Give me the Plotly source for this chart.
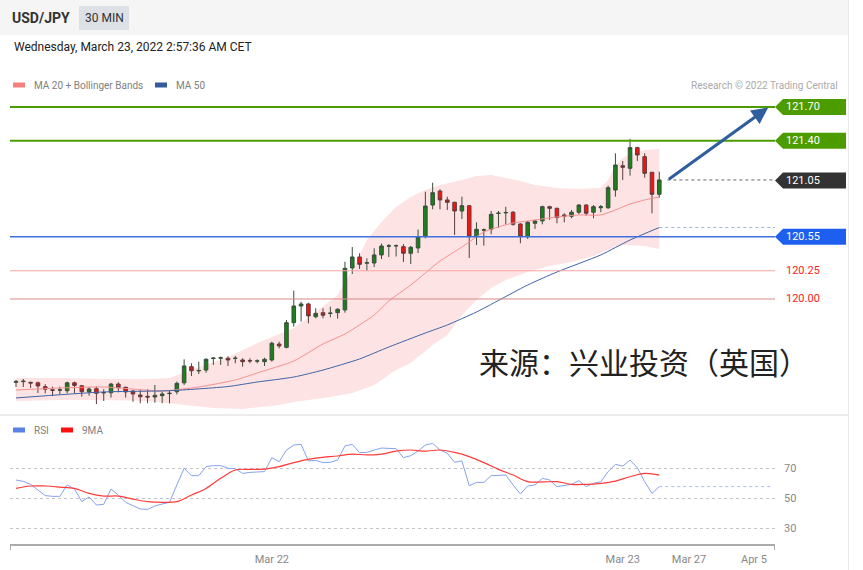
import plotly.graph_objects as go

W, H = 863, 570

# ---------------- data (USD/JPY, 30 min candles) ----------------
opens = [119.262, 119.268, 119.262, 119.258, 119.224, 119.196, 119.192, 119.188, 119.258, 119.232,
         119.177, 119.206, 119.168, 119.170, 119.247, 119.218, 119.185, 119.150, 119.138, 119.132,
         119.144, 119.162, 119.179, 119.258, 119.401, 119.363, 119.371, 119.473, 119.476, 119.475,
         119.473, 119.460, 119.455, 119.450, 119.445, 119.460, 119.601, 119.572, 119.790, 119.938,
         119.956, 119.843, 119.879, 119.872, 119.879, 119.903, 120.275, 120.372, 120.317, 120.319,
         120.390, 120.468, 120.470, 120.463, 120.405, 120.452, 120.552, 120.832, 120.956, 120.877,
         120.856, 120.779, 120.826, 120.552, 120.609, 120.617, 120.757, 120.762, 120.768, 120.664,
         120.552, 120.670, 120.691, 120.817, 120.803, 120.744, 120.732, 120.768, 120.832, 120.768,
         120.808, 120.808, 120.965, 121.180, 121.157, 121.340, 121.260, 121.122, 120.927]
highs = [119.283, 119.292, 119.268, 119.268, 119.246, 119.224, 119.224, 119.268, 119.268, 119.239,
         119.218, 119.224, 119.201, 119.258, 119.262, 119.224, 119.194, 119.194, 119.201, 119.239,
         119.179, 119.194, 119.268, 119.466, 119.431, 119.445, 119.475, 119.484, 119.489, 119.493,
         119.496, 119.475, 119.475, 119.466, 119.480, 119.622, 119.622, 119.814, 120.074, 119.976,
         119.967, 119.918, 119.918, 119.932, 119.918, 120.330, 120.460, 120.405, 120.360, 120.449,
         120.491, 120.487, 120.482, 120.487, 120.469, 120.615, 120.950, 121.030, 120.971, 120.906,
         120.861, 120.906, 120.826, 120.679, 120.624, 120.779, 120.779, 120.817, 120.779, 120.670,
         120.691, 120.700, 120.826, 120.826, 120.808, 120.759, 120.788, 120.839, 120.839, 120.832,
         120.832, 121.003, 121.290, 121.222, 121.417, 121.348, 121.290, 121.122, 121.127]
lows = [119.221, 119.221, 119.212, 119.168, 119.165, 119.141, 119.156, 119.165, 119.165, 119.135,
        119.144, 119.070, 119.097, 119.127, 119.174, 119.127, 119.091, 119.077, 119.077, 119.082,
        119.077, 119.077, 119.156, 119.239, 119.318, 119.336, 119.348, 119.416, 119.416, 119.407,
        119.431, 119.401, 119.431, 119.431, 119.407, 119.445, 119.563, 119.563, 119.755, 119.799,
        119.785, 119.829, 119.829, 119.838, 119.826, 119.879, 120.221, 120.266, 120.248, 120.283,
        120.354, 120.372, 120.376, 120.328, 120.310, 120.407, 120.537, 120.794, 120.794, 120.788,
        120.567, 120.708, 120.363, 120.478, 120.472, 120.573, 120.631, 120.661, 120.649, 120.493,
        120.531, 120.620, 120.661, 120.700, 120.670, 120.679, 120.715, 120.750, 120.738, 120.715,
        120.768, 120.797, 120.906, 121.054, 121.092, 121.222, 121.074, 120.759, 120.897]
closes = [119.270, 119.272, 119.256, 119.230, 119.201, 119.192, 119.196, 119.258, 119.235, 119.179,
          119.203, 119.165, 119.172, 119.247, 119.215, 119.177, 119.159, 119.135, 119.132, 119.147,
          119.159, 119.165, 119.253, 119.407, 119.365, 119.367, 119.466, 119.477, 119.480, 119.460,
          119.476, 119.445, 119.452, 119.452, 119.466, 119.608, 119.584, 119.790, 119.938, 119.956,
          119.850, 119.873, 119.856, 119.875, 119.909, 120.272, 120.372, 120.307, 120.321, 120.390,
          120.469, 120.471, 120.472, 120.405, 120.458, 120.552, 120.823, 120.941, 120.877, 120.856,
          120.779, 120.826, 120.552, 120.617, 120.613, 120.750, 120.760, 120.766, 120.661, 120.552,
          120.679, 120.691, 120.817, 120.803, 120.720, 120.732, 120.768, 120.832, 120.759, 120.817,
          120.817, 120.985, 121.186, 121.166, 121.340, 121.275, 121.113, 120.927, 121.054]

ma20_idx = [0, 6, 12, 20, 25, 30, 33, 38, 42, 45, 47, 49, 51, 54, 56, 58, 61, 64, 66, 68, 70, 74, 77, 80, 82, 84, 86, 88]
ma20_val = [119.194, 119.212, 119.221, 119.186, 119.221, 119.283, 119.345, 119.451, 119.602, 119.690,
            119.770, 119.858, 119.982, 120.124, 120.230, 120.336, 120.460, 120.593, 120.638, 120.673,
            120.691, 120.726, 120.744, 120.744, 120.788, 120.841, 120.877, 120.903]

bb_up_idx = [0, 6, 12, 18, 21, 24, 29, 33, 38, 41, 44, 46, 48, 50, 52, 54, 56, 58, 61, 63, 65, 67, 69,
             71, 74, 77, 80, 81, 82, 83, 84, 86, 88]
bb_up_val = [119.301, 119.301, 119.292, 119.292, 119.301, 119.371, 119.486, 119.610, 119.743, 119.885,
             120.035, 120.257, 120.522, 120.682, 120.815, 120.903, 120.965, 121.009, 121.054, 121.089,
             121.098, 121.071, 121.045, 121.009, 120.983, 120.974, 120.983, 121.054, 121.186, 121.248,
             121.284, 121.319, 121.328]
bb_lo_idx = [0, 6, 12, 18, 23, 27, 31, 35, 39, 43, 46, 49, 52, 54, 57, 59, 61, 63, 65, 67, 70, 73, 76,
             79, 81, 83, 86, 88]
bb_lo_val = [119.097, 119.106, 119.106, 119.097, 119.062, 119.035, 119.026, 119.053, 119.097, 119.132,
             119.168, 119.239, 119.371, 119.433, 119.593, 119.681, 119.858, 119.991, 120.097, 120.168,
             120.239, 120.292, 120.328, 120.381, 120.434, 120.478, 120.469, 120.443]

ma50_idx = [0, 12, 21, 29, 33, 38, 42, 47, 51, 56, 59, 63, 70, 74, 80, 84, 88]
ma50_val = [119.124, 119.177, 119.188, 119.225, 119.265, 119.309, 119.371, 119.469, 119.575, 119.699,
            119.770, 119.885, 120.124, 120.239, 120.390, 120.522, 120.633]

rsi = [62.0, 61.1, 59.1, 55.3, 51.6, 51.1, 51.1, 58.7, 56.0, 47.6,
       50.7, 45.3, 45.8, 56.0, 52.0, 47.1, 44.9, 42.7, 42.4, 44.7,
       46.0, 47.1, 58.7, 69.8, 64.9, 64.9, 70.9, 71.6, 71.6, 69.8,
       69.6, 66.4, 67.1, 67.1, 67.6, 76.9, 74.2, 82.0, 85.3, 85.8,
       74.7, 75.1, 73.6, 73.8, 75.3, 84.7, 85.8, 80.2, 80.4, 82.0,
       83.3, 83.1, 82.9, 76.9, 78.2, 81.3, 85.3, 86.4, 82.0, 79.8,
       73.8, 74.7, 58.2, 60.4, 60.4, 64.9, 65.3, 65.3, 58.7, 52.7,
       58.0, 58.7, 63.1, 62.0, 57.6, 58.2, 59.1, 61.6, 57.6, 59.8,
       60.9, 67.6, 72.4, 71.3, 75.3, 70.2, 60.9, 53.1, 57.6]
ma9_idx = list(range(0, 89, 2))
ma9_val = [56.4, 58.0, 58.0, 57.3, 56.4, 53.1, 51.3, 51.3, 49.3, 47.6, 47.1, 47.6, 52.0, 56.4, 63.1,
           68.7, 69.1, 69.3, 70.9, 73.6, 75.8, 77.1, 78.0, 79.3, 78.7, 79.3, 81.3, 82.0, 81.3,
           82.0, 80.4, 77.6, 73.6, 69.1, 65.3, 60.9, 60.7, 60.9, 59.1, 59.1, 59.8, 61.3, 64.2, 66.4, 65.3]

resistances = [121.70, 121.40]
pivot = 121.05
supports = [120.55, 120.25, 120.00]
rsi_levels = [30, 50, 70]

tick_pos = [35, 83, 92.07, 100.96]
tick_text = ["Mar 22", "Mar 23", "Mar 27", "Apr 5"]

title_pair = "USD/JPY"
title_tf = "30 MIN"
title_date = "Wednesday, March 23, 2022 2:57:36 AM CET"
source_text = "来源：兴业投资（英国）"

# ---------------- layout helpers ----------------
def px(x):
    return x / W

def py(y):
    return 1 - y / H

X_RANGE = [-0.821, 103.83]
Y_RANGE = [118.9995, 121.806]
RSI_RANGE = [18.67, 88.67]
PX_PER_PRICE = 1 / 0.008854

FONT = "Roboto, Arial, sans-serif"
n = len(closes)
idx = list(range(n))

fig = go.Figure()

shapes = []
annotations = []

# Bollinger band fill as a background path (kept beneath the candles)
band_pts = list(zip(bb_up_idx, bb_up_val)) + list(zip(bb_lo_idx[::-1], bb_lo_val[::-1]))
band_path = "M " + " L ".join(f"{x},{y}" for x, y in band_pts) + " Z"
shapes.append(dict(type="path", xref="x", yref="y", path=band_path, fillcolor="#fde3e3",
                   line=dict(width=0), layer="below"))

# MA lines
fig.add_trace(go.Scatter(x=ma20_idx, y=ma20_val, mode="lines",
                         line=dict(color="#f49090", width=1, shape="spline", smoothing=0.6),
                         hoverinfo="skip", showlegend=False))
fig.add_trace(go.Scatter(x=ma50_idx, y=ma50_val, mode="lines",
                         line=dict(color="#3d64a8", width=1, shape="spline", smoothing=0.6),
                         hoverinfo="skip", showlegend=False))

# dotted extensions
fig.add_trace(go.Scatter(x=[idx[-1] + 1.1, X_RANGE[1]], y=[closes[-1], closes[-1]], mode="lines",
                         line=dict(color="#666666", width=1, dash="dot"), hoverinfo="skip", showlegend=False))
fig.add_trace(go.Scatter(x=[idx[-1], X_RANGE[1]], y=[ma50_val[-1], ma50_val[-1]], mode="lines",
                         line=dict(color="#9fb4e0", width=1, dash="dot"), hoverinfo="skip", showlegend=False))

# candles
fig.add_trace(go.Candlestick(
    x=idx, open=opens, high=highs, low=lows, close=closes,
    increasing=dict(line=dict(color="#3b4d3b", width=1), fillcolor="#1a801a"),
    decreasing=dict(line=dict(color="#5e3c3c", width=1), fillcolor="#f51212"),
    whiskerwidth=0, hoverinfo="skip", showlegend=False))

# RSI panel
fig.add_trace(go.Scatter(x=idx, y=rsi, mode="lines", line=dict(color="#86a2ee", width=1),
                         hoverinfo="skip", showlegend=False, xaxis="x2", yaxis="y2"))
fig.add_trace(go.Scatter(x=[idx[-1], X_RANGE[1] - 0.3], y=[rsi[-1], rsi[-1]], mode="lines",
                         line=dict(color="#a9bcf0", width=1, dash="dot"),
                         hoverinfo="skip", showlegend=False, xaxis="x2", yaxis="y2"))
fig.add_trace(go.Scatter(x=ma9_idx, y=ma9_val, mode="lines", line=dict(color="#ff3b3b", width=1.2, shape="spline"),
                         hoverinfo="skip", showlegend=False, xaxis="x2", yaxis="y2"))

# header background
shapes.append(dict(type="rect", xref="paper", yref="paper", x0=0, x1=px(848), y0=py(35), y1=py(0),
                   fillcolor="#f5f5f5", line=dict(width=0), layer="below"))
shapes.append(dict(type="rect", xref="paper", yref="paper", x0=px(79), x1=px(129), y0=py(30), y1=py(6),
                   fillcolor="#dde0e5", line=dict(width=0), layer="below"))
# right border and panel separator
shapes.append(dict(type="line", xref="paper", yref="paper", x0=px(848.5), x1=px(848.5), y0=0, y1=1,
                   line=dict(color="#e8e8e8", width=1)))
shapes.append(dict(type="line", xref="paper", yref="paper", x0=0, x1=px(848), y0=py(415), y1=py(415),
                   line=dict(color="#ececec", width=2)))

# level lines
level_styles = [
    (resistances[0], "#4c9c00", 2),
    (resistances[1], "#4c9c00", 2),
    (supports[0], "#4070e0", 1.5),
    (supports[1], "#f7a5a5", 1),
    (supports[2], "#d98888", 1),
]
for lv, col, wd in level_styles:
    shapes.append(dict(type="line", xref="x domain", yref="y", x0=0, x1=1, y0=lv, y1=lv,
                       line=dict(color=col, width=wd), layer="above"))

# price tags
tag_h = 8 / PX_PER_PRICE
tags = [(resistances[0], "#4c9c00"), (resistances[1], "#4c9c00"), (pivot, "#333333"), (supports[0], "#1f5ff0")]
for lv, col in tags:
    path = (f"M {px(775)},{lv} L {px(783)},{lv + tag_h} L {px(846)},{lv + tag_h} "
            f"L {px(846)},{lv - tag_h} L {px(783)},{lv - tag_h} Z")
    shapes.append(dict(type="path", xref="paper", yref="y", path=path, fillcolor=col,
                       line=dict(width=0), layer="above"))
    annotations.append(dict(xref="paper", yref="y", x=px(784), y=lv, text=f"{lv:.2f}", showarrow=False,
                            xanchor="left", yanchor="middle", font=dict(family=FONT, size=11, color="white")))
for lv in supports[1:]:
    annotations.append(dict(xref="paper", yref="y", x=px(784), y=lv, text=f"{lv:.2f}", showarrow=False,
                            xanchor="left", yanchor="middle", font=dict(family=FONT, size=11, color="#ff1a1a")))

# forecast arrow
annotations.append(dict(xref="x", yref="y", axref="x", ayref="y", x=102.9, y=resistances[0] - 0.005,
                        ax=idx[-1] + 1.1, ay=pivot, text="", showarrow=True, arrowhead=2, arrowsize=1.1,
                        arrowwidth=3, arrowcolor="#2f5e9e"))

# header texts
annotations.append(dict(xref="paper", yref="paper", x=px(10), y=py(18), text=f"<b>{title_pair}</b>",
                        showarrow=False, xanchor="left", yanchor="middle",
                        font=dict(family=FONT, size=14, color="#333333")))
annotations.append(dict(xref="paper", yref="paper", x=px(104), y=py(18), text=title_tf,
                        showarrow=False, xanchor="center", yanchor="middle",
                        font=dict(family=FONT, size=12, color="#333333")))
annotations.append(dict(xref="paper", yref="paper", x=px(12), y=py(47), text=title_date,
                        showarrow=False, xanchor="left", yanchor="middle",
                        font=dict(family=FONT, size=12, color="#222222")))

# legends
def legend_item(x, y, color, label):
    shapes.append(dict(type="rect", xref="paper", yref="paper", x0=px(x), x1=px(x + 12), y0=py(y + 2.5),
                       y1=py(y - 2.5), fillcolor=color, line=dict(width=0)))
    annotations.append(dict(xref="paper", yref="paper", x=px(x + 19), y=py(y), text=label, showarrow=False,
                            xanchor="left", yanchor="middle", font=dict(family=FONT, size=10, color="#808080")))

legend_item(13, 85, "#f58080", "MA 20 + Bollinger Bands")
legend_item(155, 85, "#345c9c", "MA 50")
legend_item(13, 430, "#5b80e6", "RSI")
legend_item(61, 430, "#ff1010", "9MA")

annotations.append(dict(xref="paper", yref="paper", x=px(840), y=py(85), text="Research © 2022 Trading Central",
                        showarrow=False, xanchor="right", yanchor="middle",
                        font=dict(family=FONT, size=10, color="#aaaaaa")))

annotations.append(dict(xref="paper", yref="paper", x=px(477), y=py(361), text=source_text,
                        showarrow=False, xanchor="left", yanchor="middle",
                        font=dict(family="Noto Sans CJK SC", size=30, color="#222222")))

# bottom axis line with end ticks
shapes.append(dict(type="line", xref="paper", yref="paper", x0=px(10), x1=px(775), y0=py(545), y1=py(545),
                   line=dict(color="#aaaaaa", width=2)))
for xe in (10.5, 774.5):
    shapes.append(dict(type="line", xref="paper", yref="paper", x0=px(xe), x1=px(xe), y0=py(545), y1=py(550),
                       line=dict(color="#aaaaaa", width=1)))

fig.update_layout(
    width=W, height=H, autosize=False,
    margin=dict(l=0, r=0, t=0, b=0),
    paper_bgcolor="white", plot_bgcolor="rgba(0,0,0,0)",
    showlegend=False,
    xaxis=dict(domain=[px(10), px(775)], range=X_RANGE, visible=False, rangeslider=dict(visible=False),
               anchor="y", fixedrange=True),
    yaxis=dict(domain=[py(412), py(95)], range=Y_RANGE, visible=False, anchor="x", fixedrange=True),
    xaxis2=dict(domain=[px(10), px(775)], range=X_RANGE, anchor="y2", showgrid=False, zeroline=False,
                showline=False, tickmode="array", tickvals=tick_pos, ticktext=tick_text, ticks="",
                ticklabelstandoff=6,
                tickfont=dict(family=FONT, size=11, color="#888888"), fixedrange=True),
    yaxis2=dict(domain=[py(545), py(440)], range=RSI_RANGE, anchor="x2", side="right", showline=False,
                zeroline=False, tickmode="array", tickvals=rsi_levels, ticks="", ticklabelstandoff=8,
                showgrid=True, gridcolor="#c4c4c4", griddash="dot", gridwidth=1,
                tickfont=dict(family=FONT, size=11, color="#888888"), fixedrange=True),
    shapes=shapes,
    annotations=annotations,
    font=dict(family=FONT),
)

fig.write_html("out.html", config={"displayModeBar": False},
               post_script="document.body.style.margin='0px';")
